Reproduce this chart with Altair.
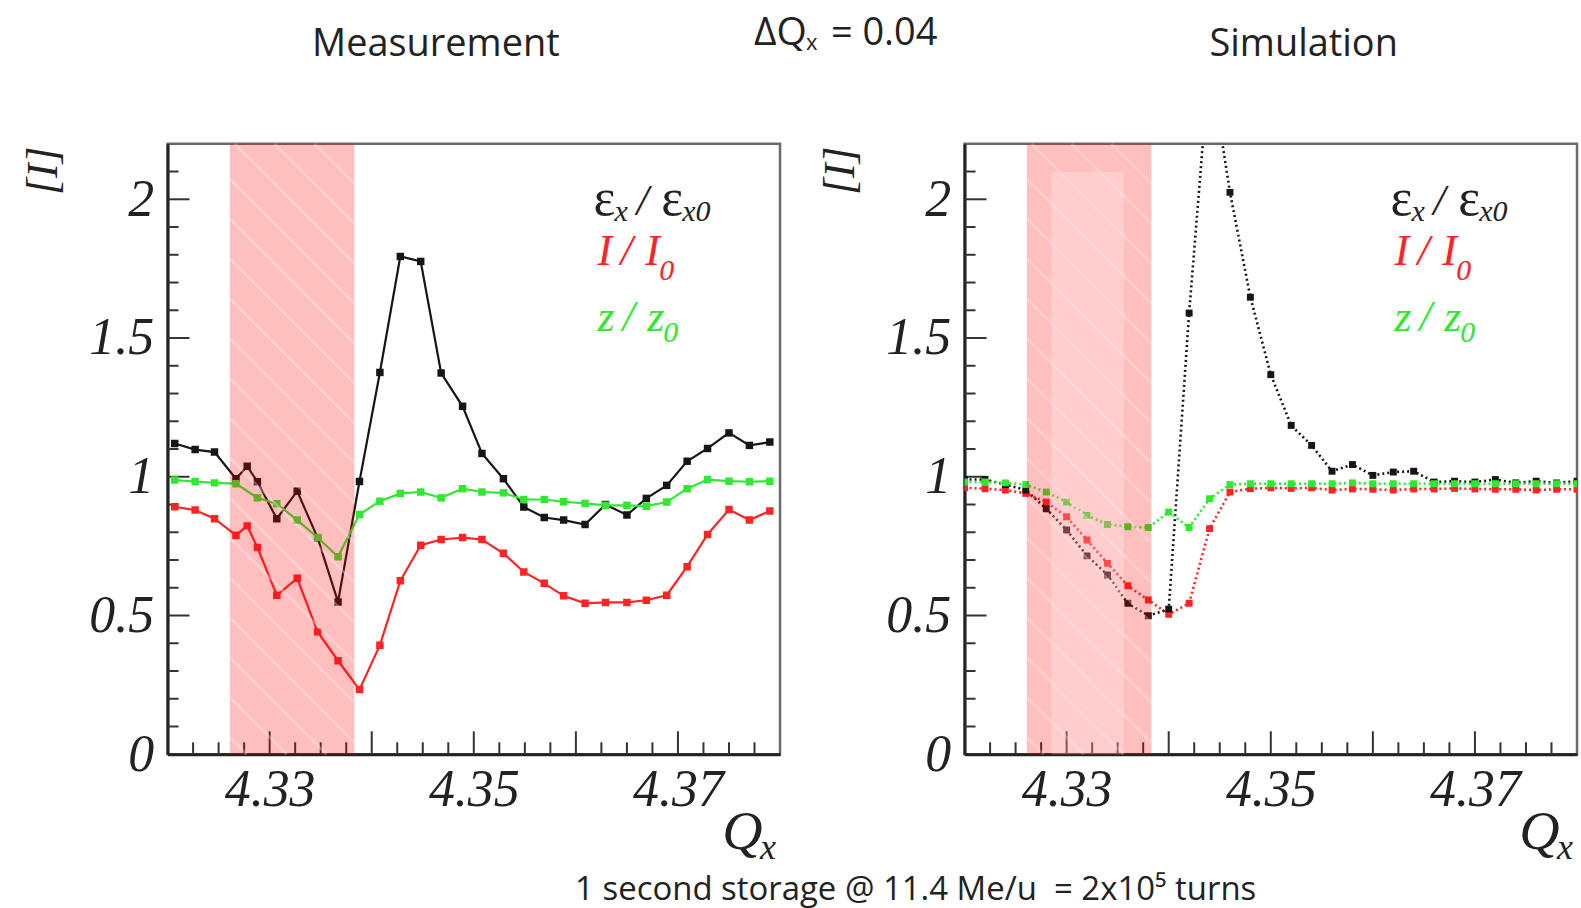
import altair as alt
import pandas as pd

# ---------------- data ----------------
meas_q = [4.3207, 4.3227, 4.3246, 4.3267, 4.3278, 4.3288, 4.3307, 4.3327, 4.3347, 4.3367,
          4.3388, 4.3408, 4.3428, 4.3448, 4.3468, 4.3489, 4.3508, 4.3529, 4.3549, 4.3569,
          4.3588, 4.3609, 4.3629, 4.3650, 4.3669, 4.3689, 4.3709, 4.3729, 4.3750, 4.3770, 4.3790]
meas_emit = [1.12, 1.098, 1.089, 0.993, 1.038, 0.982, 0.849, 0.948, 0.78, 0.549,
             0.983, 1.376, 1.794, 1.776, 1.374, 1.254, 1.084, 0.993, 0.891, 0.853,
             0.844, 0.828, 0.900, 0.862, 0.922, 0.969, 1.056, 1.102, 1.158, 1.113, 1.125]
meas_int = [0.892, 0.880, 0.849, 0.789, 0.823, 0.745, 0.573, 0.634, 0.441, 0.337,
            0.233, 0.393, 0.625, 0.753, 0.774, 0.781, 0.774, 0.724, 0.657, 0.616,
            0.571, 0.544, 0.547, 0.547, 0.555, 0.573, 0.676, 0.792, 0.882, 0.844, 0.877]
meas_z_q = [4.3207, 4.3227, 4.3246, 4.3267, 4.3288, 4.3307, 4.3327, 4.3347, 4.3367,
            4.3388, 4.3408, 4.3428, 4.3448, 4.3468, 4.3489, 4.3508, 4.3529, 4.3549, 4.3569,
            4.3588, 4.3609, 4.3629, 4.3650, 4.3669, 4.3689, 4.3709, 4.3729, 4.3750, 4.3770, 4.3790]
meas_z = [0.988, 0.983, 0.978, 0.975, 0.924, 0.903, 0.844, 0.781, 0.712,
          0.864, 0.912, 0.940, 0.945, 0.924, 0.957, 0.945, 0.942, 0.918, 0.918,
          0.910, 0.904, 0.897, 0.897, 0.894, 0.909, 0.957, 0.990, 0.984, 0.982, 0.984]

sim_q = [4.320, 4.322, 4.324, 4.326, 4.328, 4.330, 4.332, 4.334, 4.336, 4.338,
         4.340, 4.342, 4.344, 4.346, 4.348, 4.350, 4.352, 4.354, 4.356, 4.358,
         4.360, 4.362, 4.364, 4.366, 4.368, 4.370, 4.372, 4.374, 4.376, 4.378, 4.380]
sim_emit = [0.99, 0.99, 0.972, 0.952, 0.885, 0.808, 0.715, 0.646, 0.544, 0.499,
            0.523, 1.59, 2.5, 2.025, 1.647, 1.368, 1.185, 1.113, 1.020, 1.044,
            1.005, 1.017, 1.020, 0.981, 0.984, 0.981, 0.990, 0.978, 0.984, 0.978, 0.984]
sim_int = [0.960, 0.957, 0.952, 0.940, 0.909, 0.856, 0.772, 0.688, 0.607, 0.556,
           0.504, 0.544, 0.813, 0.945, 0.957, 0.960, 0.958, 0.960, 0.952, 0.956,
           0.955, 0.952, 0.956, 0.956, 0.958, 0.956, 0.955, 0.955, 0.952, 0.955, 0.955]
sim_z = [0.981, 0.981, 0.978, 0.972, 0.945, 0.909, 0.861, 0.828, 0.820, 0.817,
         0.873, 0.817, 0.921, 0.972, 0.975, 0.975, 0.975, 0.975, 0.975, 0.978,
         0.975, 0.975, 0.975, 0.975, 0.975, 0.975, 0.975, 0.975, 0.975, 0.975, 0.975]

band = [4.3261, 4.3383]          # shaded resonance region
sim_inner = [4.3285, 4.3356]     # lighter inner part in the simulation band

x_labels = [4.33, 4.35, 4.37]
y_labels = [0, 0.5, 1, 1.5, 2]

# ---------------- styling ----------------
W, H = 614, 612
QMIN, QMAX, VMAX = 4.32, 4.38, 2.2
SERIF = "Liberation Serif"
SANS = "Open Sans"
C_BLACK, C_RED, C_GREEN = "#161616", "#ff2424", "#30e830"
ONE = pd.DataFrame({"k": [0]})

xs = alt.Scale(domain=[QMIN, QMAX], nice=False, zero=False)
ys = alt.Scale(domain=[0, VMAX], nice=False, zero=False)
xaxis = alt.Axis(values=x_labels, format=".2f", title=None, grid=False, ticks=False,
                 labelPadding=10, labelFlush=False, labelFont=SERIF, labelFontStyle="italic",
                 labelFontSize=52, labelColor="#222", domainColor="#222", domainWidth=3)
yaxis = alt.Axis(values=y_labels, format="~g", title=None, grid=False, ticks=False,
                 labelPadding=14, labelFlush=False, labelFont=SERIF, labelFontStyle="italic",
                 labelFontSize=52, labelColor="#222", domainColor="#222", domainWidth=3)


def X(f):
    return alt.X(f, type="quantitative", scale=xs, axis=xaxis)


def Y(f):
    return alt.Y(f, type="quantitative", scale=ys, axis=yaxis)


def txt(s, x, y, size, color="#222222", font=SERIF, style="italic", align="left",
        baseline="alphabetic", angle=0):
    return alt.Chart(ONE).mark_text(
        fontSize=size, color=color, font=font, fontStyle=style, align=align,
        baseline=baseline, angle=angle
    ).encode(x=alt.value(x), y=alt.value(y), text=alt.value(s))


def legend_labels():
    L = []
    # eps_x / eps_x0
    L += [txt("ε", 427, 71, 52, style="normal"), txt("x", 448, 77, 30), txt("/", 470, 71, 44),
          txt("ε", 495, 71, 52, style="normal"), txt("x0", 516, 77, 30)]
    # I / I0
    L += [txt("I", 431, 122, 44, C_RED), txt("/", 454, 122, 44, C_RED),
          txt("I", 479, 122, 44, C_RED), txt("0", 493, 137, 30, C_RED)]
    # z / z0
    L += [txt("z", 431, 188, 44, C_GREEN), txt("/", 456, 188, 44, C_GREEN),
          txt("z", 481, 188, 44, C_GREEN), txt("0", 497, 199, 30, C_GREEN)]
    # axis titles
    L += [txt("Q", 556, 707, 56), txt("x", 594, 717, 36),
          txt("[I]", -124, 27, 44, align="center", baseline="middle", angle=270)]
    return L


def hatch(lo, hi):
    px1 = (lo - QMIN) / (QMAX - QMIN) * W
    px2 = (hi - QMIN) / (QMAX - QMIN) * W
    rows = []
    c = -px2
    while c < H - px1:
        xa, xb = max(px1, -c), min(px2, H - c)
        if xb > xa:
            rows.append({
                "q": QMIN + xa / W * (QMAX - QMIN), "q2": QMIN + xb / W * (QMAX - QMIN),
                "v": VMAX * (1 - (xa + c) / H), "v2": VMAX * (1 - (xb + c) / H)})
        c += 40
    return pd.DataFrame(rows)


def panel(qe, emit, qi, inten, qz, zz, dashed, inner, anchors):
    rows = ([{"q": a, "v": b, "s": "z"} for a, b in zip(qz, zz)] +
            [{"q": a, "v": b, "s": "e"} for a, b in zip(qe, emit)] +
            [{"q": a, "v": b, "s": "i"} for a, b in zip(qi, inten)])
    df = pd.DataFrame(rows)
    order = ["i", "e", "z"]
    cols = {"i": C_RED, "e": C_BLACK, "z": C_GREEN}
    layers = []
    # ticks (inward)
    minor_x = [round(QMIN + 0.0025 * k, 4) for k in range(1, 24)]
    major_x = [v for v in minor_x if abs(round(v * 100) - v * 100) < 1e-6]
    minor_x = [v for v in minor_x if v not in major_x]
    minor_y = [round(0.1 * k, 1) for k in range(1, 22) if k % 5]
    major_y = [0.5, 1.0, 1.5, 2.0]
    layers.append(alt.Chart(pd.DataFrame({"t": minor_x})).mark_rule(color="#333", strokeWidth=2)
                  .encode(x=X("t"), y=alt.value(H), y2=alt.value(H - 12)))
    layers.append(alt.Chart(pd.DataFrame({"t": major_x})).mark_rule(color="#333", strokeWidth=2)
                  .encode(x=X("t"), y=alt.value(H), y2=alt.value(H - 23)))
    layers.append(alt.Chart(pd.DataFrame({"t": minor_y})).mark_rule(color="#333", strokeWidth=2)
                  .encode(y=Y("t"), x=alt.value(0), x2=alt.value(11)))
    layers.append(alt.Chart(pd.DataFrame({"t": major_y})).mark_rule(color="#333", strokeWidth=2)
                  .encode(y=Y("t"), x=alt.value(0), x2=alt.value(22)))
    for s in order:
        sub = df[df.s == s]
        kw = dict(color=cols[s], strokeWidth=2.2 if not dashed else 2.6, clip=True)
        if dashed:
            kw["strokeDash"] = [2, 3]
        layers.append(alt.Chart(sub).mark_line(**kw).encode(x=X("q"), y=Y("v")))
        layers.append(alt.Chart(sub).mark_square(color=cols[s], opacity=1, size=56 if not dashed else 48,
                                                 clip=True).encode(x=X("q"), y=Y("v")))
    # shaded band over the curves
    layers.append(alt.Chart(pd.DataFrame({"a": [band[0]], "b": [band[1]]}))
                  .mark_rect(color="#ff0000", opacity=0.25)
                  .encode(x=X("a"), x2="b", y=alt.value(0), y2=alt.value(H)))
    if inner:
        layers.append(alt.Chart(pd.DataFrame({"a": [sim_inner[0]], "b": [sim_inner[1]]}))
                      .mark_rect(color="#ffffff", opacity=0.22)
                      .encode(x=X("a"), x2="b", y=alt.value(28), y2=alt.value(H)))
    layers.append(alt.Chart(hatch(band[0], band[1]))
                  .mark_rule(color="white", opacity=0.3 if not inner else 0.25, strokeWidth=2.5)
                  .encode(x=X("q"), x2="q2", y=Y("v"), y2="v2"))
    layers += legend_labels()
    layers += anchors
    return alt.layer(*layers).properties(width=W, height=H)


# page-extent anchors (white, invisible on white) + page texts placed with the left panel
anchors_left = [
    alt.Chart(ONE).mark_rule(color="white", strokeWidth=1).encode(
        x=alt.value(-165.5), x2=alt.value(-165), y=alt.value(-140.5), y2=alt.value(-140)),
    alt.Chart(ONE).mark_rule(color="white", strokeWidth=1).encode(
        x=alt.value(1414.5), x2=alt.value(1414.8), y=alt.value(766.5), y2=alt.value(766.8)),
    txt("Measurement", 269, -99, 38, font=SANS, style="normal", align="center", baseline="middle"),
    txt("Simulation", 1139, -99, 38, font=SANS, style="normal", align="center", baseline="middle"),
    txt("ΔQ", 588, -99, 39, font=SANS, style="normal"),
    txt("x", 640, -94, 22, font=SANS, style="normal"),
    txt("= 0.04", 665, -99, 38, font=SANS, style="normal"),
    txt("1 second storage @ 11.4 Me/u \u00a0= 2x10⁵ turns", 750, 748, 33, font=SANS,
        style="normal", align="center", baseline="middle"),
]

left = panel(meas_q, meas_emit, meas_q, meas_int, meas_z_q, meas_z, False, False, anchors_left)
right = panel(sim_q, sim_emit, sim_q, sim_int, sim_q, sim_z, True, True, [])

chart = alt.hconcat(left, right, spacing=185, bounds="flush").properties(
    padding=0, autosize=alt.AutoSizeParams(type="pad"), background="white"
).configure_view(stroke="#6a6a6a", strokeWidth=2.5)

chart.save("out.html", embed_options={"renderer": "svg", "actions": False})
